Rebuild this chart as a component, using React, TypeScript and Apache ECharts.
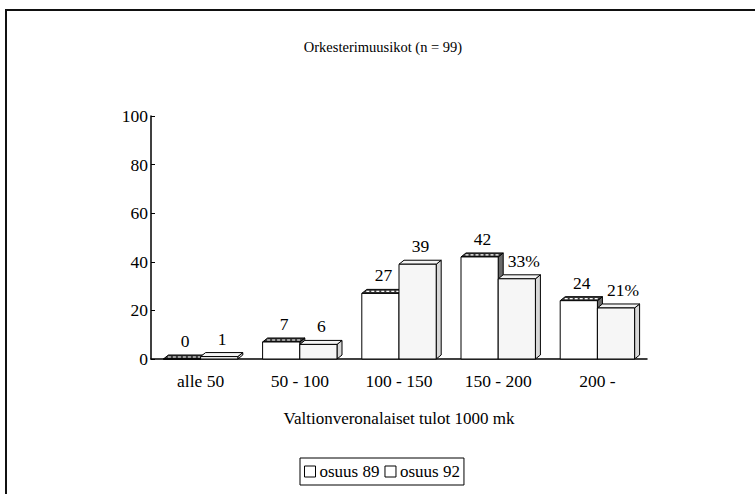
import React, { useEffect, useRef } from "react";
import * as echarts from "echarts";

const categories = ["alle 50", "50 - 100", "100 - 150", "150 - 200", "200 -"];
const values89 = [0, 7, 27, 42, 24];
const values92 = [1, 6, 39, 33, 21];
const labels89 = ["0", "7", "27", "42", "24"];
const labels92 = ["1", "6", "39", "33%", "21%"];
const seriesNames = ["osuus 89", "osuus 92"];
const yTicks = { min: 0, max: 100, interval: 20 };

const FONT = "'Liberation Serif', 'DejaVu Serif', serif";
const FS = 17.5;
const DX = 5;
const DY = 4;

function makeRenderItem(seriesIdx: number, labels: string[]) {
  return (params: any, api: any) => {
    const idx = api.value(0);
    const val = api.value(1);
    const base = api.coord([idx, 0]);
    const top = api.coord([idx, val]);
    const band = api.size([1, 0])[0];
    const bw = band * 0.375;
    const x0 = seriesIdx === 0 ? base[0] - bw : base[0];
    const x1 = x0 + bw;
    const y0 = base[1];
    const y1 = top[1];
    const is89 = seriesIdx === 0;
    const children: any[] = [
      {
        type: "polygon",
        shape: { points: [[x1, y0], [x1 + DX, y0 - DY], [x1 + DX, y1 - DY], [x1, y1]] },
        style: { fill: is89 ? "#6a6a6a" : "#d8d8d8", stroke: "#000", lineWidth: 1 },
      },
      {
        type: "polygon",
        shape: { points: [[x0, y1], [x0 + DX, y1 - DY], [x1 + DX, y1 - DY], [x1, y1]] },
        style: { fill: is89 ? "#3a3a3a" : "#f4f4f4", stroke: "#000", lineWidth: 1 },
      },
    ];
    if (is89) {
      children.push({
        type: "line",
        shape: { x1: x0 + DX / 2 + 2, y1: y1 - DY / 2, x2: x1 + DX / 2 - 1, y2: y1 - DY / 2 },
        style: { stroke: "#fff", lineWidth: 1.2, lineDash: [3, 2] },
      });
    }
    children.push({
      type: "rect",
      shape: { x: x0, y: y1, width: bw, height: y0 - y1 },
      style: { fill: is89 ? "#ffffff" : "#f6f6f6", stroke: "#000", lineWidth: 1 },
    });
    const lbl = labels[params.dataIndex];
    const extra = lbl.indexOf("%") >= 0 ? 7 : 3;
    children.push({
      type: "text",
      style: {
        text: lbl,
        x: (x0 + x1) / 2 + extra,
        y: y1 - 18,
        align: "center",
        verticalAlign: "middle",
        fontSize: FS,
        fontFamily: FONT,
        fill: "#000",
      },
    });
    return { type: "group", children };
  };
}

export default function App() {
  const ref = useRef<HTMLDivElement>(null);
  useEffect(() => {
    document.body.style.margin = "0";
    const chart = echarts.init(ref.current!, undefined, { renderer: "svg" });
    chart.setOption({
      animation: false,
      backgroundColor: "#fff",
      textStyle: { fontFamily: FONT, color: "#000" },
      title: {
        text: "Orkesterimuusikot (n = 99)",
        left: 378,
        top: 34,
        textAlign: "center",
        textStyle: { fontFamily: FONT, fontSize: 14.5, fontWeight: "normal", color: "#000" },
      },
      graphic: [
        {
          type: "rect",
          shape: { x: 6, y: 10, width: 900, height: 700 },
          style: { fill: "none", stroke: "#111", lineWidth: 2 },
          silent: true,
        },
        {
          type: "text",
          style: {
            text: "Valtionveronalaiset tulot 1000 mk",
            x: 399,
            y: 418,
            align: "center",
            verticalAlign: "middle",
            fontSize: 17,
            fontFamily: FONT,
            fill: "#000",
          },
        },
      ],
      legend: {
        left: 300,
        top: 458,
        orient: "horizontal",
        icon: "rect",
        itemWidth: 11,
        itemHeight: 11,
        itemGap: 5,
        padding: [5, 4],
        borderColor: "#000",
        borderWidth: 1,
        textStyle: { fontFamily: FONT, fontSize: 17, color: "#000", padding: [0, 0, 0, -1] },
        itemStyle: { color: "#fff", borderColor: "#000", borderWidth: 1 },
        data: seriesNames,
      },
      grid: { left: 151, top: 116, right: 108, bottom: 135 },
      xAxis: {
        type: "category",
        data: categories,
        axisLine: { lineStyle: { color: "#000", width: 1.5 } },
        axisTick: { inside: true, length: 5, lineStyle: { color: "#000" } },
        axisLabel: { color: "#000", fontSize: FS, fontFamily: FONT, margin: 13 },
      },
      yAxis: {
        type: "value",
        min: yTicks.min,
        max: yTicks.max,
        interval: yTicks.interval,
        splitLine: { show: false },
        axisLine: { show: true, lineStyle: { color: "#000", width: 1.5 } },
        axisTick: { show: true, inside: true, length: 4, lineStyle: { color: "#000" } },
        axisLabel: { color: "#000", fontSize: FS, fontFamily: FONT, margin: 3 },
      },
      series: [
        {
          name: seriesNames[0],
          type: "custom",
          renderItem: makeRenderItem(0, labels89),
          encode: { x: 0, y: 1 },
          itemStyle: { color: "#fff", borderColor: "#000" },
          data: values89.map((v, i) => [i, v]),
          clip: false,
        },
        {
          name: seriesNames[1],
          type: "custom",
          renderItem: makeRenderItem(1, labels92),
          encode: { x: 0, y: 1 },
          itemStyle: { color: "#fff", borderColor: "#000" },
          data: values92.map((v, i) => [i, v]),
          clip: false,
        },
      ],
    });
    return () => chart.dispose();
  }, []);
  return <div ref={ref} style={{ width: 755, height: 494 }} />;
}
